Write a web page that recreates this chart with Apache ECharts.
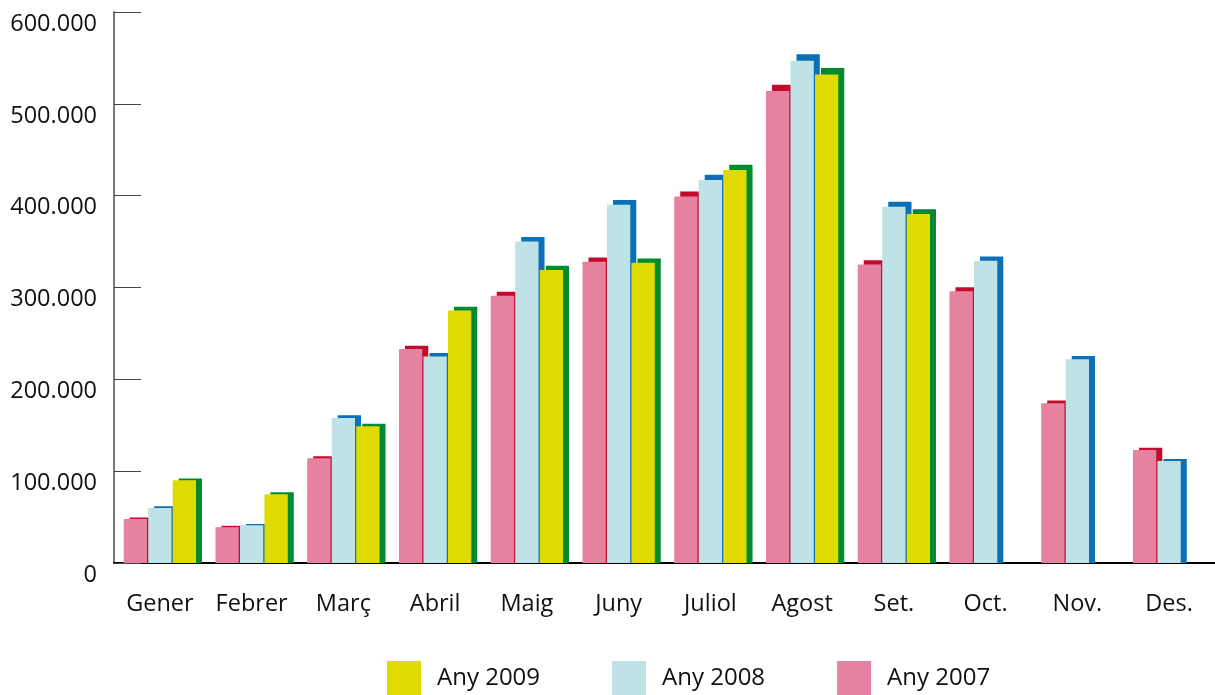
<!DOCTYPE html>
<html>
<head>
<meta charset="utf-8">
<script src="https://cdn.jsdelivr.net/npm/echarts@6/dist/echarts.min.js"></script>
<style>
  html, body { margin: 0; padding: 0; background: #fff; }
  #chart { width: 1215px; height: 695px; }
</style>
</head>
<body>
<div id="chart"></div>
<script>
(function () {
    "use strict";

    var months = ['Gener', 'Febrer', 'Març', 'Abril', 'Maig', 'Juny', 'Juliol', 'Agost', 'Set.', 'Oct.', 'Nov.', 'Des.'];
    var any2007 = [48000, 39000, 114000, 233000, 291000, 328000, 399000, 514000, 325000, 296000, 174000, 123000];
    var any2008 = [60000, 41000, 158000, 225000, 350000, 390000, 417000, 547000, 388000, 329000, 222000, 111000];
    var any2009 = [90000, 75000, 149000, 275000, 319000, 327000, 428000, 532000, 380000, null, null, null];
    var yTicks = [0, 100000, 200000, 300000, 400000, 500000, 600000];

    /*----each bar = front face + darker back face shifted right----*/
    function makeRender(slot, front, back) {
        return function (params, api) {
            var idx = api.value(0), v = api.value(1);
            if (v == null || isNaN(v)) return null;
            var base = api.coord([idx, 0]);
            var top = api.coord([idx, v]);
            var w = 23.3;
            var cx = base[0] + slot * 24.5;
            var h = base[1] - top[1];
            var bh = h * 1.011 + 1;
            return {
                type: 'group',
                children: [
                    { type: 'rect', shape: { x: cx - w / 2 + 6, y: base[1] - bh, width: w, height: bh }, style: { fill: back } },
                    { type: 'rect', shape: { x: cx - w / 2, y: top[1], width: w, height: h }, style: { fill: front } }
                ]
            };
        };
    }

    function toData(arr) {
        var out = [];
        arr.forEach(function (v, i) { if (v != null) out.push([i, v]); });
        return out;
    }

    function fmt(v) {
        return v === 0 ? '0' : (v / 1000) + '.000';
    }

    var font = '"Open Sans", sans-serif';

    var option = {
        animation: false,
        grid: { left: 114, right: 0, top: 12, bottom: 132 },
        legend: {
            left: 387,
            top: 661,
            padding: 0,
            itemWidth: 34,
            itemHeight: 34,
            itemGap: 72,
            icon: 'rect',
            textStyle: { fontFamily: font, fontSize: 24, color: '#111', padding: [0, 0, 0, 11] },
            data: ['Any 2009', 'Any 2008', 'Any 2007']
        },
        xAxis: {
            type: 'category',
            data: months,
            axisLine: { lineStyle: { color: '#000', width: 2 } },
            axisTick: { show: false },
            axisLabel: { interval: 0, hideOverlap: false, fontFamily: font, fontSize: 23.5, color: '#111', margin: 29 }
        },
        yAxis: {
            type: 'value',
            min: 0,
            max: 600000,
            interval: 100000,
            splitLine: { show: false },
            axisLine: { show: true, lineStyle: { color: '#7a7a7a', width: 2 } },
            axisTick: { show: true, inside: true, length: 27, lineStyle: { color: '#444', width: 1 } },
            axisLabel: {
                fontFamily: font, fontSize: 23.5, color: '#111', margin: 17,
                verticalAlign: 'top', formatter: fmt,
                customValues: yTicks
            }
        },
        series: [
            {
                name: 'Any 2007', type: 'custom', encode: { x: 0, y: 1 },
                itemStyle: { color: '#E6819F' },
                renderItem: makeRender(-1, '#E6819F', '#C30B2D'),
                data: toData(any2007)
            },
            {
                name: 'Any 2008', type: 'custom', encode: { x: 0, y: 1 },
                itemStyle: { color: '#BFE2E6' },
                renderItem: makeRender(0, '#BFE2E6', '#0B70B7'),
                data: toData(any2008)
            },
            {
                name: 'Any 2009', type: 'custom', encode: { x: 0, y: 1 },
                itemStyle: { color: '#DFDB00' },
                renderItem: makeRender(1, '#DFDB00', '#008B30'),
                data: toData(any2009)
            }
        ]
    };

    var chart = echarts.init(document.getElementById('chart'));
    chart.setOption(option);
})();
</script>
</body>
</html>
